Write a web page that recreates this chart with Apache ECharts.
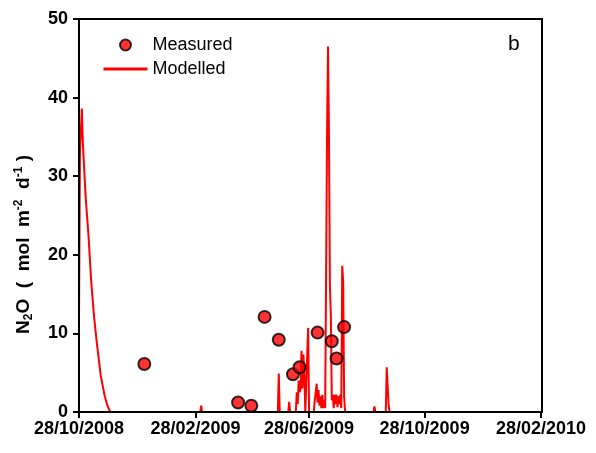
<!DOCTYPE html>
<html>
<head>
<meta charset="utf-8">
<script src="https://cdn.jsdelivr.net/npm/echarts@6/dist/echarts.min.js"></script>
<style>
html,body{margin:0;padding:0;background:#fff;}
#chart{width:596px;height:453px;}
</style>
</head>
<body>
<div id="chart"></div>
<script>
// ---- data ----
const startDate = '2008-10-28';
const endDate = '2010-03-01';
const tickDates = ['2008-10-28', '2009-02-28', '2009-06-28', '2009-10-28', '2010-02-28'];

const measuredDates = ['2009-01-05', '2009-04-14', '2009-04-28', '2009-05-12', '2009-05-27',
  '2009-06-11', '2009-06-18', '2009-07-07', '2009-07-22', '2009-07-27', '2009-08-04'];
const measuredValues = [6.1, 1.2, 0.8, 12.1, 9.2, 4.8, 5.7, 10.1, 9.0, 6.8, 10.8];

// modelled: day offset from startDate and value
const modelDay = [0, 1, 3, 4, 5, 7, 10, 13, 16, 19, 23, 27, 30, 33,
  128, 129, 130,
  210, 211, 212,
  221, 222, 223,
  229, 230, 231, 232, 233, 234, 235, 236, 237, 238, 239,
  241, 242, 243,
  248, 249, 250, 251, 252, 253, 254, 255, 256, 257, 258, 259, 260,
  261, 262, 263, 264, 265, 266,
  267, 268, 269, 270, 271, 272, 273, 274, 275, 276, 277,
  278, 279, 280, 281,
  311, 312, 313,
  324, 325, 326, 327, 328];
const modelValue = [11.7, 33, 38.6, 34.5, 32, 27.4, 22.5, 16.4, 12, 8.6, 4.6, 2.1, 0.8, 0,
  0, 0.8, 0,
  0, 4.9, 0,
  0, 1.3, 0,
  0, 2.5, 1, 4, 2.5, 3, 7.8, 3, 7.3, 5, 0,
  0, 10.7, 0,
  0, 1.5, 2.5, 3.6, 1.2, 2.8, 0.8, 2, 0.5, 2.2, 0.5, 1.5, 0.5,
  18, 35.5, 46.5, 35.5, 16, 12.3,
  1.5, 2.2, 0.5, 2.2, 1, 2.2, 0.6, 2, 1, 2.2, 0.5,
  18.6, 16.6, 2, 0,
  0, 0.7, 0,
  0, 5.7, 5.6, 0.9, 0];

// ---- build ----
const DAY = 86400000;
function ts(s) { const p = s.split('-'); return Date.UTC(+p[0], +p[1] - 1, +p[2]); }
const t0 = ts(startDate);
const measuredData = measuredDates.map((d, i) => [ts(d), measuredValues[i]]);
const modelData = modelDay.map((d, i) => [t0 + d * DAY, modelValue[i]]);
function pad(n) { return (n < 10 ? '0' : '') + n; }
function fmt(v) { const d = new Date(v); return pad(d.getUTCDate()) + '/' + pad(d.getUTCMonth() + 1) + '/' + d.getUTCFullYear(); }

const FONT = '"Liberation Sans", Arial, sans-serif';
const chart = echarts.init(document.getElementById('chart'), null, { renderer: 'canvas' });
chart.setOption({
  backgroundColor: '#fff',
  animation: false,
  grid: { left: 79, right: 54, top: 19, bottom: 41, show: true, borderColor: '#000', borderWidth: 2, backgroundColor: 'transparent' },
  legend: {
    orient: 'vertical', left: 102, top: 36, padding: 0, itemWidth: 44, itemHeight: 11, itemGap: 6,
    textStyle: { fontFamily: FONT, fontSize: 18, color: '#000' },
    data: [
      { name: 'Measured' },
      { name: 'Modelled', itemStyle: { opacity: 0 }, lineStyle: { width: 3 } }
    ]
  },
  xAxis: {
    type: 'value', min: t0, max: ts(endDate), z: 5,
    axisLine: { show: true, lineStyle: { color: '#000', width: 2 } },
    axisTick: { show: true, length: 6, lineStyle: { color: '#000', width: 2 }, customValues: tickDates.map(ts) },
    axisLabel: { customValues: tickDates.map(ts), formatter: fmt, fontFamily: FONT, fontWeight: 'bold', fontSize: 18, color: '#000', margin: 8 },
    splitLine: { show: false }
  },
  yAxis: {
    type: 'value', min: 0, max: 50, interval: 10, z: 5,
    axisLine: { show: true, lineStyle: { color: '#000', width: 2 } },
    axisTick: { show: true, length: 6, lineStyle: { color: '#000', width: 2 } },
    axisLabel: { fontFamily: FONT, fontWeight: 'bold', fontSize: 18, color: '#000', margin: 11 },
    splitLine: { show: false },
    name: 'N{sub|2}O  (  mol  m{sup|-2}  d{sup|-1} )',
    nameLocation: 'middle', nameGap: 44,
    nameTextStyle: {
      fontFamily: FONT, fontWeight: 'bold', fontSize: 19, color: '#000',
      padding: [0, 58, 0, 0],
      rich: {
        sub: { fontFamily: FONT, fontWeight: 'bold', fontSize: 12, verticalAlign: 'bottom', padding: [10, 0, 0, 0] },
        sup: { fontFamily: FONT, fontWeight: 'bold', fontSize: 12, verticalAlign: 'top', padding: [0, 0, 9, 0] }
      }
    }
  },
  series: [
    {
      name: 'Modelled', type: 'line', data: modelData, showSymbol: false, symbol: 'none',
      lineStyle: { color: '#ff0000', width: 2 }, itemStyle: { color: '#ff0000' }, z: 2
    },
    {
      name: 'Measured', type: 'scatter', data: measuredData, symbol: 'circle', symbolSize: 12,
      itemStyle: { color: '#ff0000', borderColor: '#000', borderWidth: 2 }, z: 3
    }
  ],
  graphic: [
    { type: 'text', left: 508, top: 34, style: { text: 'b', font: '21px ' + FONT, fill: '#000' } }
  ]
});
</script>
</body>
</html>
